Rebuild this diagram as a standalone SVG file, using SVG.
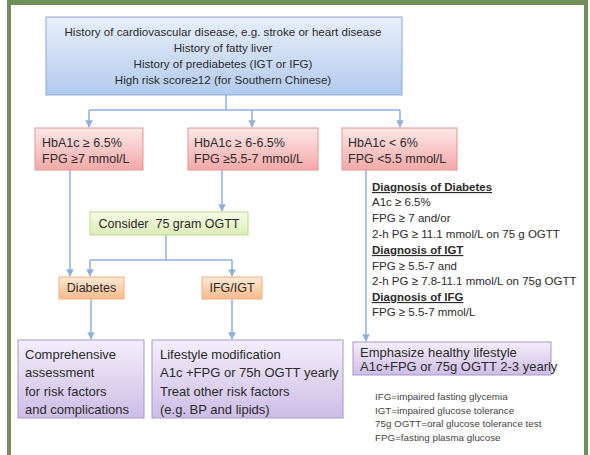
<svg xmlns="http://www.w3.org/2000/svg" width="590" height="455" viewBox="0 0 590 455">
<defs>
<linearGradient id="gBlue" x1="0" y1="0" x2="0" y2="1"><stop offset="0" stop-color="#e8effb"/><stop offset="1" stop-color="#b3caee"/></linearGradient>
<linearGradient id="gRed" x1="0" y1="0" x2="0" y2="1"><stop offset="0" stop-color="#fde8e8"/><stop offset="1" stop-color="#f4a8a8"/></linearGradient>
<linearGradient id="gGreen" x1="0" y1="0" x2="0" y2="1"><stop offset="0" stop-color="#f7fbe8"/><stop offset="1" stop-color="#dcedb6"/></linearGradient>
<linearGradient id="gOrange" x1="0" y1="0" x2="0" y2="1"><stop offset="0" stop-color="#fde9d6"/><stop offset="1" stop-color="#f7ba8a"/></linearGradient>
<linearGradient id="gPurple" x1="0" y1="0" x2="0" y2="1"><stop offset="0" stop-color="#f4eefb"/><stop offset="1" stop-color="#cdbde6"/></linearGradient>
<marker id="arr" viewBox="0 0 10 10" refX="9" refY="5" markerWidth="5" markerHeight="5" orient="auto"><path d="M0,0 L10,5 L0,10 z" fill="#8fb0dc"/></marker>
</defs>
<style>
text{font-family:"Liberation Sans",Arial,sans-serif;fill:#2b2b2b}
.blue{fill:url(#gBlue);stroke:#8ca8d8;stroke-width:1}
.red{fill:url(#gRed);stroke:#e39595;stroke-width:1}
.green{fill:url(#gGreen);stroke:#bdd98c;stroke-width:1}
.orange{fill:url(#gOrange);stroke:#f0b07c;stroke-width:1}
.purple{fill:url(#gPurple);stroke:#a797cb;stroke-width:1}
.c{fill:none;stroke:#8fb0dc;stroke-width:1.5}
.a{marker-end:url(#arr)}
.t12{font-size:12.5px}
.t13{font-size:13px}
.top{font-size:11.6px;text-anchor:middle}
.dx{font-size:11.5px}
.dh{font-size:11.5px;font-weight:bold;text-decoration:underline}
.fn{font-size:9.8px;fill:#444}
</style>
<rect x="0" y="0" width="590" height="455" fill="#ffffff"/>
<g id="frame" fill="#718f59">
<rect x="7" y="0" width="581" height="5"/>
<rect x="7" y="0" width="4" height="455"/>
<rect x="584" y="0" width="4" height="455"/>
</g>
<g id="connectors">
<path class="c" d="M226,95 V110"/>
<path class="c" d="M89,110 H400"/>
<path class="c a" d="M89,110 V127"/>
<path class="c a" d="M252,110 V127"/>
<path class="c a" d="M400,110 V127"/>
<path class="c a" d="M70,170 V276"/>
<path class="c a" d="M222,170 V211"/>
<path class="c" d="M166,235 V260"/>
<path class="c" d="M90,260 H232"/>
<path class="c a" d="M90,260 V276"/>
<path class="c a" d="M232,260 V276"/>
<path class="c a" d="M91,299 V339"/>
<path class="c a" d="M232,299 V339"/>
<path class="c a" d="M366,170 V341"/>
</g>
<g id="risk">
<rect class="blue" x="46" y="17" width="356" height="78"/>
<text class="top" x="223" y="36">History of cardiovascular disease, e.g. stroke or heart disease</text>
<text class="top" x="223" y="52">History of fatty liver</text>
<text class="top" x="223" y="68">History of prediabetes (IGT or IFG)</text>
<text class="top" x="223" y="84">High risk score≥12 (for Southern Chinese)</text>
</g>
<g id="high">
<rect class="red" x="35" y="128" width="108" height="42"/>
<text class="t12" x="42" y="146.5">HbA1c ≥ 6.5%</text>
<text class="t12" x="42" y="163">FPG ≥7 mmol/L</text>
</g>
<g id="mid">
<rect class="red" x="188" y="128" width="130" height="42"/>
<text class="t12" x="194" y="146.5">HbA1c ≥ 6-6.5%</text>
<text class="t12" x="194" y="163">FPG ≥5.5-7 mmol/L</text>
</g>
<g id="low">
<rect class="red" x="342" y="128" width="115" height="42"/>
<text class="t12" x="348" y="146.5">HbA1c &lt; 6%</text>
<text class="t12" x="348" y="163">FPG &lt;5.5 mmol/L</text>
</g>
<g id="ogtt">
<rect class="green" x="90" y="212" width="158" height="23"/>
<text class="t12" x="169" y="227.5" text-anchor="middle" xml:space="preserve">Consider  75 gram OGTT</text>
</g>
<g id="diabetes">
<rect class="orange" x="59" y="277" width="65" height="22"/>
<text class="t12" x="91.5" y="292" text-anchor="middle">Diabetes</text>
</g>
<g id="ifgigt">
<rect class="orange" x="202" y="277" width="60" height="22"/>
<text class="t12" x="232" y="292" text-anchor="middle">IFG/IGT</text>
</g>
<g id="criteria">
<text class="dh" x="372" y="191">Diagnosis of Diabetes</text>
<text class="dx" x="372" y="206">A1c ≥ 6.5%</text>
<text class="dx" x="372" y="222">FPG ≥ 7 and/or</text>
<text class="dx" x="372" y="238">2-h PG ≥ 11.1 mmol/L on 75 g OGTT</text>
<text class="dh" x="372" y="254">Diagnosis of IGT</text>
<text class="dx" x="372" y="269.5">FPG ≥ 5.5-7 and</text>
<text class="dx" x="372" y="285">2-h PG ≥ 7.8-11.1 mmol/L on 75g OGTT</text>
<text class="dh" x="372" y="301">Diagnosis of IFG</text>
<text class="dx" x="372" y="316">FPG ≥ 5.5-7 mmol/L</text>
</g>
<g id="assess">
<rect class="purple" x="18" y="340" width="126" height="78"/>
<text class="t13" x="25" y="358.5">Comprehensive</text>
<text class="t13" x="25" y="377">assessment</text>
<text class="t13" x="25" y="395.5">for risk factors</text>
<text class="t13" x="25" y="414">and complications</text>
</g>
<g id="lifestyle">
<rect class="purple" x="152" y="340" width="191" height="78"/>
<text class="t13" x="160" y="358.5">Lifestyle modification</text>
<text class="t13" x="160" y="377">A1c +FPG or 75h OGTT yearly</text>
<text class="t13" x="160" y="395.5">Treat other risk factors</text>
<text class="t13" x="160" y="414">(e.g. BP and lipids)</text>
</g>
<g id="healthy">
<rect class="purple" x="353" y="342" width="198" height="33"/>
<text class="t13" x="360" y="356.5">Emphasize healthy lifestyle</text>
<text class="t13" x="360" y="371">A1c+FPG or 75g OGTT 2-3 yearly</text>
</g>
<g id="notes">
<text class="fn" x="375" y="400">IFG=impaired fasting glycemia</text>
<text class="fn" x="375" y="414">IGT=impaired glucose tolerance</text>
<text class="fn" x="375" y="427">75g OGTT=oral glucose tolerance test</text>
<text class="fn" x="375" y="441">FPG=fasting plasma glucose</text>
</g>
</svg>
